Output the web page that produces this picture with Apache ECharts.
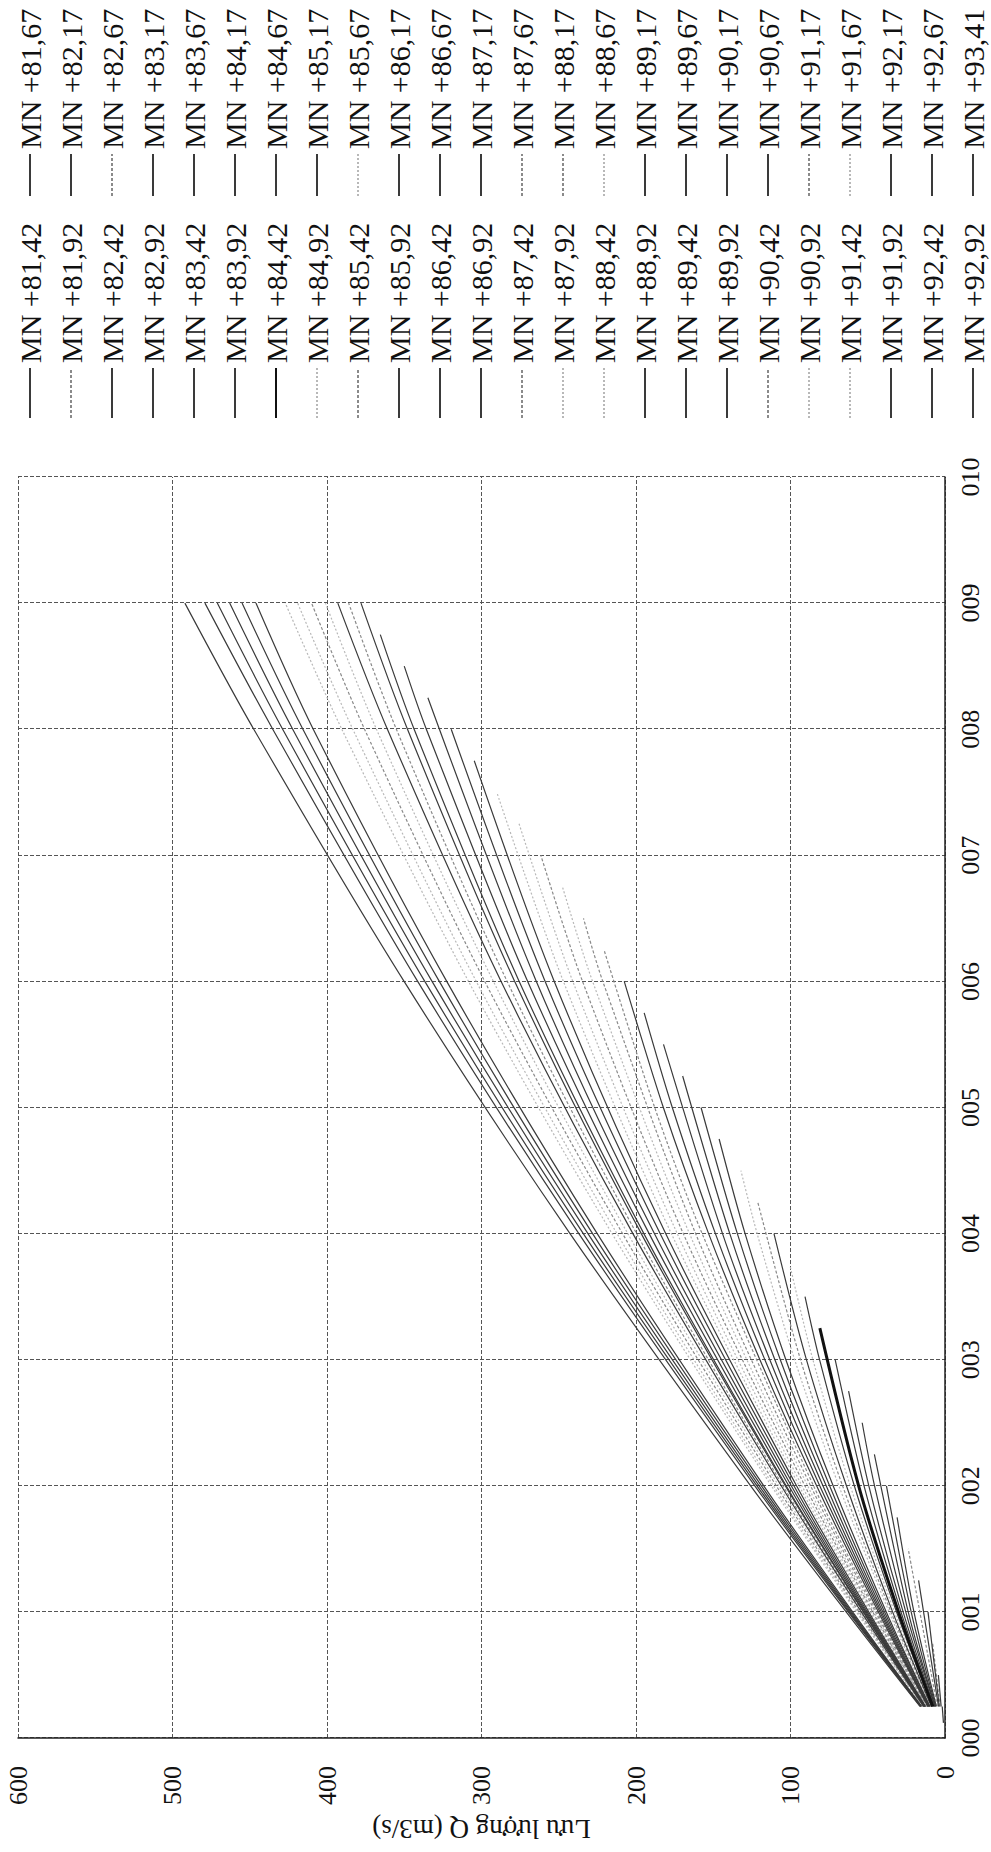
<!DOCTYPE html>
<html>
<head>
<meta charset="utf-8">
<script src="https://cdn.jsdelivr.net/npm/echarts@6/dist/echarts.min.js"></script>
<style>
  html, body { margin: 0; padding: 0; background: #fff; overflow: hidden; width: 991px; height: 1852px; }
  /* the rating chart is laid out landscape and turned a quarter-turn to fit the portrait page */
  #chart { position: absolute; left: 0; top: 0; width: 1852px; height: 991px;
           transform-origin: 0 0; transform: translateY(1852px) rotate(-90deg); }
</style>
</head>
<body>
<div id="chart"></div>
<script>
// Water levels (MN) of the upstream pool, one rating curve each
const levels = [
  'MN +81,42', 'MN +81,67', 'MN +81,92', 'MN +82,17', 'MN +82,42', 'MN +82,67',
  'MN +82,92', 'MN +83,17', 'MN +83,42', 'MN +83,67', 'MN +83,92', 'MN +84,17',
  'MN +84,42', 'MN +84,67', 'MN +84,92', 'MN +85,17', 'MN +85,42', 'MN +85,67',
  'MN +85,92', 'MN +86,17', 'MN +86,42', 'MN +86,67', 'MN +86,92', 'MN +87,17',
  'MN +87,42', 'MN +87,67', 'MN +87,92', 'MN +88,17', 'MN +88,42', 'MN +88,67',
  'MN +88,92', 'MN +89,17', 'MN +89,42', 'MN +89,67', 'MN +89,92', 'MN +90,17',
  'MN +90,42', 'MN +90,67', 'MN +90,92', 'MN +91,17', 'MN +91,42', 'MN +91,67',
  'MN +91,92', 'MN +92,17', 'MN +92,42', 'MN +92,67', 'MN +92,92', 'MN +93,41'
];

// Gate opening tick labels
const openingTicks = ['000', '001', '002', '003', '004', '005', '006', '007', '008', '009', '010'];

// Discharge Q (m3/s) against gate opening, [opening, Q]
const q8142 = [[0.12, 1.0], [0.25, 1.8]];
const q8167 = [[0.25, 2.5], [0.5, 4.3]];
const q8192 = [[0.25, 3.2], [0.75, 8.0]];
const q8217 = [[0.25, 3.7], [1, 11.0]];
const q8242 = [[0.25, 4.2], [1.25, 17.1]];
const q8267 = [[0.25, 5.0], [1.5, 23.8]];
const q8292 = [[0.25, 5.6], [1, 20.1], [1.75, 31.0]];
const q8317 = [[0.25, 6.0], [1, 21.9], [2, 37.9]];
const q8342 = [[0.25, 6.4], [1, 23.8], [2.25, 45.7]];
const q8367 = [[0.25, 6.6], [1, 25.4], [2, 45.6], [2.5, 53.6]];
const q8392 = [[0.25, 7.1], [1, 27.1], [2, 49.3], [2.75, 62.4]];
const q8417 = [[0.25, 7.5], [1, 28.5], [2, 52.4], [3, 71.1]];
const q8442 = [[0.25, 7.9], [1, 30.1], [2, 55.9], [3.25, 81.0]];
const q8467 = [[0.25, 8.2], [1, 31.4], [2, 58.7], [3, 81.2], [3.5, 90.6]];
const q8492 = [[0.25, 8.5], [1, 32.7], [2, 61.3], [3, 85.5], [3.75, 100.4]];
const q8517 = [[0.25, 8.8], [1, 33.9], [2, 63.8], [3, 89.7], [4, 110.7]];
const q8542 = [[0.25, 9.1], [1, 35.0], [2, 66.3], [3, 93.5], [4.25, 121.2]];
const q8567 = [[0.25, 9.4], [1, 36.2], [2, 68.7], [3, 97.3], [4, 121.6], [4.5, 132.1]];
const q8592 = [[0.25, 9.8], [1, 38.0], [2, 72.4], [3, 103.0], [4, 129.4], [4.75, 146.2]];
const q8617 = [[0.25, 9.9], [1, 39.1], [2, 74.7], [3, 106.6], [4, 134.4], [5, 157.9]];
const q8642 = [[0.25, 10.4], [1, 40.2], [2, 76.9], [3, 110.1], [4, 139.3], [5.25, 169.8]];
const q8667 = [[0.25, 10.6], [1, 41.2], [2, 79.0], [3, 113.4], [4, 144.0], [5.5, 182.2]];
const q8692 = [[0.25, 10.9], [1, 42.1], [2, 81.1], [3, 116.6], [4, 148.6], [5, 176.5], [5.75, 194.7]];
const q8717 = [[0.25, 11.1], [1, 43.1], [2, 83.1], [3, 119.8], [4, 153.0], [5, 182.3], [6, 207.6]];
const q8742 = [[0.25, 11.3], [1, 44.1], [2, 85.1], [4, 157.2], [5, 187.9], [6.25, 220.7]];
const q8767 = [[0.25, 11.6], [1, 45.0], [2, 87.0], [4, 161.4], [6, 221.5], [6.5, 234.0]];
const q8792 = [[0.25, 11.8], [1, 46.0], [2, 88.9], [4, 165.4], [6, 228.1], [6.75, 247.6]];
const q8817 = [[0.25, 12.0], [1, 46.8], [2, 90.7], [4, 169.4], [6, 234.6], [7, 261.6]];
const q8842 = [[0.25, 12.2], [1, 47.7], [2, 92.6], [4, 173.3], [6, 240.9], [7.25, 275.7]];
const q8867 = [[0.25, 12.4], [1, 48.6], [2, 94.4], [4, 177.1], [6, 247.0], [7.5, 290.1]];
const q8892 = [[0.25, 12.6], [1, 49.4], [2, 96.1], [4, 180.8], [6, 252.9], [7.75, 304.7]];
const q8917 = [[0.25, 12.8], [1, 50.3], [2, 97.8], [4, 184.4], [6, 258.8], [8, 319.6]];
const q8942 = [[0.25, 13.0], [1, 51.1], [2, 99.5], [4, 188.1], [6, 264.5], [8.25, 334.7]];
const q8967 = [[0.25, 13.2], [1, 51.8], [2, 101.1], [4, 191.5], [6, 270.1], [8, 335.7], [8.5, 350.0]];
const q8992 = [[0.25, 13.4], [1, 52.6], [2, 102.8], [4, 194.9], [6, 275.6], [8, 343.6], [8.75, 365.5]];
const q9017 = [[0.25, 13.5], [1, 52.9], [2, 103.4], [4, 196.6], [6, 278.5], [8, 347.9], [9, 378.0]];
const q9042 = [[0.25, 13.7], [1, 53.6], [2, 104.9], [4, 199.6], [6, 283.4], [8, 355.1], [9, 386.0]];
const q9067 = [[0.25, 13.9], [1, 54.2], [2, 106.0], [4, 202.0], [6, 287.3], [8, 360.9], [9, 393.0]];
const q9092 = [[0.25, 14.0], [1, 54.9], [2, 107.6], [4, 205.3], [6, 292.3], [8, 368.0], [9, 401.0]];
const q9117 = [[0.25, 14.2], [1, 55.7], [2, 109.2], [4, 208.7], [6, 297.9], [8, 375.7], [9, 410.0]];
const q9142 = [[0.25, 14.4], [1, 56.6], [2, 111.0], [4, 212.3], [6, 303.4], [8, 383.3], [9, 419.0]];
const q9167 = [[0.25, 14.6], [1, 57.4], [2, 112.4], [4, 215.5], [6, 308.4], [8, 390.4], [9, 427.0]];
const q9192 = [[0.25, 15.2], [1, 59.8], [2, 117.3], [4, 225.1], [6, 322.5], [8, 408.9], [9, 446.0]];
const q9217 = [[0.25, 15.4], [1, 60.6], [2, 118.8], [4, 228.1], [6, 327.3], [8, 415.6], [9, 455.0]];
const q9242 = [[0.25, 15.5], [1, 61.3], [2, 120.3], [4, 231.1], [6, 332.0], [8, 422.2], [9, 463.0]];
const q9267 = [[0.25, 15.7], [1, 62.0], [2, 121.7], [4, 234.1], [6, 336.7], [8, 428.7], [9, 471.0]];
const q9292 = [[0.25, 15.9], [1, 62.7], [2, 123.1], [4, 237.0], [6, 341.3], [8, 435.1], [9, 479.0]];
const q9341 = [[0.25, 16.2], [1, 64.0], [2, 125.8], [4, 242.7], [6, 350.1], [8, 447.4], [9, 492.0]];

const curves = [
  q8142, q8167, q8192, q8217, q8242, q8267, q8292, q8317, q8342, q8367, q8392, q8417,
  q8442, q8467, q8492, q8517, q8542, q8567, q8592, q8617, q8642, q8667, q8692, q8717,
  q8742, q8767, q8792, q8817, q8842, q8867, q8892, q8917, q8942, q8967, q8992, q9017,
  q9042, q9067, q9092, q9117, q9142, q9167, q9192, q9217, q9242, q9267, q9292, q9341
];

// Line look per curve: S solid, L grey dotted, N pale dotted, B heavy
const lineKind = [
  'S','S','L','S','S','L','S','S','S','S','S','S',
  'B','S','N','S','L','N','S','S','S','S','S','S',
  'L','L','N','L','N','N','S','S','S','S','S','S',
  'L','S','N','L','N','N','S','S','S','S','S','S'
];

const FONT = '"Liberation Serif", "Times New Roman", serif';
const kindStyle = {
  S: { color: '#3a3a3a', width: 1.2, type: 'solid' },
  L: { color: '#8a8a8a', width: 1.2, type: [3, 2] },
  N: { color: '#b8b8b8', width: 1.2, type: [2, 2] },
  B: { color: '#111111', width: 3, type: 'solid' }
};

const leftColumn = levels.filter((_, i) => i % 2 === 0);
const rightColumn = levels.filter((_, i) => i % 2 === 1);

const legendBase = {
  orient: 'vertical', top: 15, padding: 0, itemGap: 11, itemHeight: 14,
  selectedMode: false,
  itemStyle: { opacity: 0 },
  lineStyle: { opacity: 1 },
  textStyle: { fontFamily: FONT, fontSize: 30, color: '#111', lineHeight: 30 }
};

const chart = echarts.init(document.getElementById('chart'), null, { renderer: 'svg' });
chart.setOption({
  animation: false,
  backgroundColor: '#ffffff',
  grid: { left: 114, top: 18, width: 1261, height: 927, containLabel: false, outerBoundsMode: 'none' },
  xAxis: {
    type: 'value', min: 0, max: 10, interval: 1,
    axisLine: { show: true, onZero: false, lineStyle: { color: '#222', width: 1.5 } },
    axisTick: { show: false },
    axisLabel: {
      formatter: v => openingTicks[Math.round(v)],
      fontFamily: FONT, fontSize: 26, color: '#111', margin: 12
    },
    splitLine: { show: true, lineStyle: { color: '#555', width: 1, type: [4, 2] } }
  },
  yAxis: {
    type: 'value', min: 0, max: 600, interval: 100,
    name: 'Lưu lượng Q (m3/s)', nameLocation: 'middle', nameGap: 74, nameRotate: 90,
    nameTextStyle: { fontFamily: FONT, fontSize: 27, color: '#111' },
    axisLine: { show: true, onZero: false, lineStyle: { color: '#222', width: 1.5 } },
    axisTick: { show: false },
    axisLabel: { fontFamily: FONT, fontSize: 26, color: '#111', margin: 28 },
    splitLine: { show: true, lineStyle: { color: '#555', width: 1, type: [4, 2] } }
  },
  legend: [
    Object.assign({}, legendBase, { left: 1433, itemWidth: 50, data: leftColumn }),
    Object.assign({}, legendBase, { left: 1655, itemWidth: 42, data: rightColumn })
  ],
  series: levels.map((name, i) => {
    const st = kindStyle[lineKind[i]];
    return {
      name: name, type: 'line', data: curves[i],
      showSymbol: false, symbol: 'none', smooth: 0.3,
      color: st.color,
      lineStyle: { color: st.color, width: st.width, type: st.type },
      z: lineKind[i] === 'B' ? 5 : (lineKind[i] === 'S' ? 3 : 2)
    };
  })
});
</script>
</body>
</html>
